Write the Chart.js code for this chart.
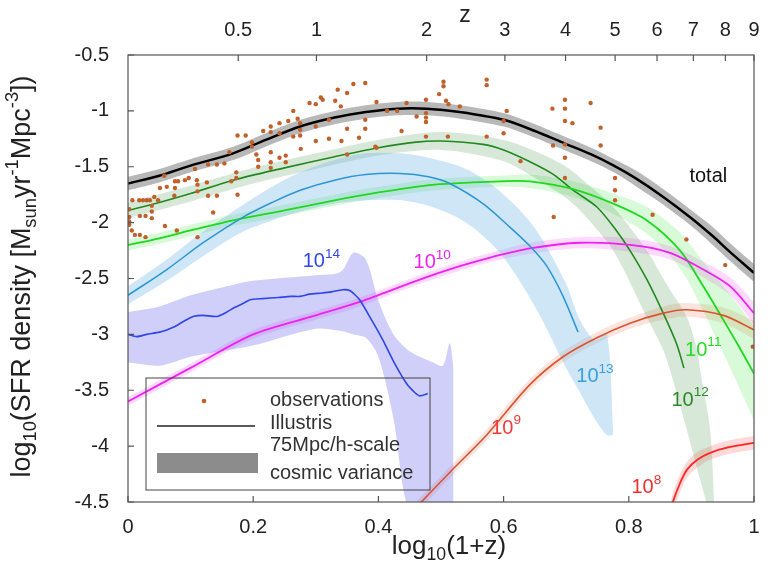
<html>
<head>
<title>SFR density</title>
<script src="https://cdn.jsdelivr.net/npm/chart.js@4.4.0/dist/chart.umd.min.js"></script>
<style>
  body { margin: 0; background: #fff; }
  #wrap { width: 770px; height: 579px; }
</style>
</head>
<body>
<div id="wrap"><canvas id="myChart" width="770" height="579"></canvas></div>
<script>
// x = log10(1+z), y = log10(SFR density)
var zTicks = [0.5, 1, 2, 3, 4, 5, 6, 7, 8, 9];
var zLabels = ['0.5', '1', '2', '3', '4', '5', '6', '7', '8', '9'];

// total
var totalX = [0, 0.05, 0.1, 0.168, 0.22, 0.275, 0.33, 0.38, 0.43, 0.477, 0.53, 0.6, 0.65, 0.697, 0.74, 0.776, 0.81, 0.855, 0.9, 0.934, 0.961, 1.0];
var totalY = [-1.65, -1.58, -1.49, -1.38, -1.26, -1.14, -1.06, -1.01, -0.98, -0.98, -1.01, -1.08, -1.18, -1.29, -1.39, -1.49, -1.60, -1.77, -1.96, -2.12, -2.26, -2.45];
var totalW = [0.06, 0.06, 0.06, 0.06, 0.06, 0.06, 0.06, 0.06, 0.06, 0.06, 0.06, 0.06, 0.06, 0.06, 0.06, 0.06, 0.07, 0.07, 0.07, 0.08, 0.08, 0.08];

// 10^12
var m12X = [0, 0.05, 0.1, 0.168, 0.25, 0.33, 0.4, 0.46, 0.5, 0.567, 0.6, 0.642, 0.68, 0.711, 0.749, 0.78, 0.802, 0.829, 0.855, 0.876, 0.888];
var m12Y = [-1.89, -1.82, -1.74, -1.62, -1.51, -1.41, -1.33, -1.28, -1.27, -1.30, -1.35, -1.455, -1.57, -1.71, -1.86, -2.07, -2.25, -2.51, -2.81, -3.08, -3.30];
var m12BandX = [0, 0.1, 0.2, 0.3, 0.4, 0.5, 0.6, 0.65, 0.7, 0.727, 0.775, 0.829, 0.855, 0.866, 0.893, 0.909, 0.914, 0.93, 0.937];
var m12BandUp = [-1.82, -1.67, -1.51, -1.38, -1.26, -1.19, -1.26, -1.36, -1.50, -1.62, -1.86, -2.25, -2.50, -2.60, -2.85, -3.14, -3.32, -3.86, -4.60];
var m12BandLo = [-1.96, -1.81, -1.65, -1.52, -1.40, -1.35, -1.45, -1.60, -1.78, -1.92, -2.25, -2.85, -3.14, -3.32, -3.86, -4.20, -4.30, -4.60, -4.60];

// 10^11
var m11X = [0, 0.05, 0.1, 0.168, 0.25, 0.33, 0.4, 0.49, 0.55, 0.594, 0.642, 0.711, 0.775, 0.829, 0.882, 0.919, 0.951, 0.975, 1.0];
var m11Y = [-2.20, -2.14, -2.07, -1.98, -1.89, -1.80, -1.73, -1.66, -1.64, -1.63, -1.63, -1.70, -1.83, -1.98, -2.25, -2.57, -2.87, -3.10, -3.35];
var m11W = [0.05, 0.05, 0.05, 0.05, 0.05, 0.05, 0.05, 0.05, 0.05, 0.05, 0.06, 0.07, 0.09, 0.12, 0.16, 0.22, 0.30, 0.36, 0.42];

// 10^13
var m13X = [0, 0.062, 0.12, 0.184, 0.23, 0.275, 0.33, 0.38, 0.435, 0.48, 0.514, 0.567, 0.61, 0.642, 0.669, 0.695, 0.719];
var m13Y = [-2.65, -2.42, -2.18, -1.95, -1.82, -1.71, -1.62, -1.57, -1.56, -1.59, -1.65, -1.83, -2.04, -2.21, -2.39, -2.66, -2.98];
var m13BandX = [0, 0.062, 0.12, 0.184, 0.23, 0.275, 0.33, 0.38, 0.435, 0.48, 0.54, 0.594, 0.65, 0.7, 0.72, 0.745, 0.765, 0.775];
var m13BandUp = [-2.57, -2.33, -2.08, -1.84, -1.68, -1.55, -1.44, -1.38, -1.38, -1.42, -1.52, -1.72, -2.05, -2.55, -2.85, -3.05, -3.00, -3.85];
var m13BandLo = [-2.73, -2.52, -2.30, -2.08, -1.98, -1.90, -1.83, -1.80, -1.80, -1.85, -2.00, -2.27, -2.75, -3.30, -3.50, -3.75, -3.90, -3.90];

// 10^14
var m14X = [0, 0.014, 0.03, 0.05, 0.062, 0.075, 0.09, 0.104, 0.12, 0.142, 0.158, 0.17, 0.185, 0.195, 0.215, 0.24, 0.26, 0.275, 0.29, 0.31, 0.325, 0.343, 0.355, 0.37, 0.39, 0.407, 0.425, 0.445, 0.458, 0.466, 0.479];
var m14Y = [-3.0, -3.02, -3.0, -2.98, -2.96, -2.93, -2.88, -2.84, -2.83, -2.84, -2.80, -2.76, -2.72, -2.69, -2.68, -2.67, -2.66, -2.66, -2.64, -2.63, -2.62, -2.60, -2.61, -2.69, -2.88, -3.05, -3.25, -3.44, -3.52, -3.55, -3.53];
var m14BandX = [0, 0.05, 0.1, 0.15, 0.2, 0.3, 0.34, 0.36, 0.38, 0.4, 0.424, 0.45, 0.487, 0.503, 0.514, 0.52];
var m14BandUp = [-2.80, -2.75, -2.65, -2.58, -2.52, -2.47, -2.44, -2.27, -2.33, -2.70, -3.00, -3.15, -3.25, -3.28, -3.08, -3.30];
var m14BandLo = [-3.25, -3.28, -3.20, -3.15, -3.10, -2.95, -2.97, -3.00, -3.03, -3.20, -3.75, -4.60, -4.60, -4.60, -4.60, -4.60];

// 10^10
var m10X = [0, 0.1, 0.2, 0.3, 0.37, 0.466, 0.53, 0.58, 0.642, 0.722, 0.802, 0.866, 0.919, 0.962, 1.0];
var m10Y = [-3.60, -3.30, -3.00, -2.83, -2.71, -2.51, -2.39, -2.31, -2.23, -2.18, -2.20, -2.27, -2.42, -2.57, -2.81];
var m10W = [0.04, 0.04, 0.04, 0.04, 0.04, 0.04, 0.04, 0.04, 0.05, 0.05, 0.06, 0.06, 0.07, 0.08, 0.10];

// 10^9
var m9X = [0.46, 0.52, 0.573, 0.642, 0.695, 0.749, 0.802, 0.855, 0.892, 0.951, 1.0];
var m9Y = [-4.55, -4.20, -3.90, -3.45, -3.20, -3.03, -2.90, -2.81, -2.78, -2.83, -2.96];
var m9W = [0.05, 0.05, 0.05, 0.05, 0.05, 0.05, 0.05, 0.06, 0.06, 0.07, 0.08];

// 10^8
var m8X = [0.866, 0.871, 0.882, 0.893, 0.91, 0.93, 0.96, 1.0];
var m8Y = [-4.60, -4.49, -4.33, -4.21, -4.12, -4.06, -4.01, -3.97];
var m8W = [0.08, 0.08, 0.08, 0.07, 0.07, 0.06, 0.06, 0.06];

// observations
var obsX = [0.605, 0.60, 0.60, 0.627, 0.678, 0.698, 0.698, 0.698, 0.710, 0.739, 0.755, 0.755, 0.679, 0.698, 0.698, 0.698, 0.68, 0.778, 0.778, 0.778,
  0.838, 0.892, 0.954, 0.998,
  0.397, 0.414, 0.43, 0.445, 0.437, 0.461, 0.476, 0.476, 0.476, 0.476, 0.476, 0.497, 0.504, 0.504, 0.508, 0.512, 0.511, 0.53, 0.573, 0.573, 0.573, 0.397,
  0.36, 0.379, 0.335, 0.35, 0.308, 0.29, 0.30, 0.311, 0.331, 0.34, 0.264, 0.271, 0.275, 0.275, 0.275, 0.256, 0.242, 0.228, 0.228, 0.216, 0.242, 0.264,
  0.198, 0.30, 0.30, 0.321, 0.321, 0.35, 0.341, 0.369, 0.379, 0.379, 0.395, 0.35, 0.205, 0.208, 0.228, 0.228, 0.228, 0.242, 0.252, 0.252, 0.208, 0.276,
  0.175, 0.188, 0.198, 0.162, 0.154, 0.128, 0.142, 0.107, 0.058, 0.075, 0.08, 0.091, 0.097, 0.11, 0.111, 0.111, 0.126, 0.142, 0.128, 0.173, 0.173,
  0.165, 0.175, 0.051, 0.062, 0.075, 0.074, 0.007, 0.018, 0.024, 0.03, 0.035, 0.042, 0.048, 0.038, 0.002, 0.002, 0.019, 0.028, 0.038, 0.038, 0.002,
  0.002, 0.006, 0.011, 0.019, 0.028, 0.059, 0.136, 0.078, 0.111];
var obsY = [-1.0, -1.09, -1.20, -1.45, -0.98, -0.90, -0.98, -1.09, -1.11, -0.93, -1.15, -1.31, -1.31, -1.30, -1.42, -1.60, -1.95, -1.60, -1.71, -1.80,
  -1.93, -2.15, -2.38, -3.11,
  -0.92, -1.0, -1.0, -0.93, -1.18, -1.05, -0.90, -1.02, -1.06, -1.10, -1.23, -0.85, -0.74, -0.78, -0.91, -0.94, -1.23, -0.96, -0.72, -0.77, -1.23, -1.33,
  -0.76, -0.75, -0.81, -0.84, -0.88, -0.93, -0.94, -0.90, -0.91, -0.96, -1.0, -1.07, -1.11, -1.17, -1.22, -1.09, -1.11, -1.14, -1.19, -1.18, -1.20, -1.23,
  -1.28, -1.14, -1.27, -1.08, -1.25, -1.16, -1.27, -1.24, -1.08, -1.16, -1.32, -1.39, -1.39, -1.44, -1.37, -1.46, -1.51, -1.42, -1.40, -1.46, -1.50, -1.34,
  -1.22, -1.22, -1.32, -1.37, -1.47, -1.48, -1.48, -1.52, -1.58, -1.63, -1.63, -1.62, -1.60, -1.62, -1.66, -1.72, -1.64, -1.76, -1.76, -1.55, -1.60,
  -1.63, -1.75, -1.69, -1.68, -1.69, -1.76, -1.80, -1.80, -1.80, -1.80, -1.80, -1.77, -1.80, -1.85, -1.88, -1.95, -1.94, -1.94, -1.96, -1.90, -1.99,
  -2.02, -2.07, -2.11, -2.11, -2.13, -2.03, -1.91, -2.07, -2.13];

var FONT = "'Liberation Sans', Arial, sans-serif";

function pts(xs, ys) {
  return xs.map(function (x, i) { return { x: x, y: ys[i] }; });
}
function shift(ys, ws, s) {
  return ys.map(function (y, i) { return y + s * ws[i]; });
}
function fmt(v) {
  return String(Math.round(v * 10) / 10);
}

var datasets = [];
function band(xs, up, lo, color) {
  datasets.push({ data: pts(xs, up), borderColor: 'transparent', borderWidth: 0, pointRadius: 0, fill: false, tension: 0.3, order: 3 });
  datasets.push({ data: pts(xs, lo), borderColor: 'transparent', borderWidth: 0, pointRadius: 0, fill: '-1', backgroundColor: color, tension: 0.3, order: 3 });
}
function curve(xs, ys, color, width, tension) {
  datasets.push({ data: pts(xs, ys), borderColor: color, borderWidth: width, pointRadius: 0, fill: false, tension: tension, order: 2 });
}

band(m14BandX, m14BandUp, m14BandLo, 'rgba(110,110,240,0.33)');
band(m13BandX, m13BandUp, m13BandLo, 'rgba(110,180,228,0.33)');
band(m12BandX, m12BandUp, m12BandLo, 'rgba(60,140,60,0.2)');
band(m11X, shift(m11Y, m11W, 1), shift(m11Y, m11W, -1), 'rgba(40,230,40,0.18)');
band(m10X, shift(m10Y, m10W, 1), shift(m10Y, m10W, -1), 'rgba(255,0,255,0.15)');
band(m9X, shift(m9Y, m9W, 1), shift(m9Y, m9W, -1), 'rgba(230,90,50,0.16)');
band(m8X, shift(m8Y, m8W, 1), shift(m8Y, m8W, -1), 'rgba(255,40,40,0.18)');
band(totalX, shift(totalY, totalW, 1), shift(totalY, totalW, -1), 'rgba(0,0,0,0.28)');

curve(m14X, m14Y, '#2f45e6', 1.6, 0.2);
curve(m13X, m13Y, '#2a97d4', 1.5, 0.3);
curve(m10X, m10Y, '#f020f0', 1.8, 0.3);
curve(m9X, m9Y, '#d9552e', 1.6, 0.3);
curve(m8X, m8Y, '#ff2626', 1.8, 0.3);
curve(m11X, m11Y, '#1fd81f', 1.8, 0.3);
curve(m12X, m12Y, '#208a20', 1.6, 0.3);
curve(totalX, totalY, '#000000', 2.5, 0.3);

datasets.push({ data: pts(obsX, obsY), showLine: false, pointRadius: 2.2, pointBackgroundColor: '#c0602a', pointBorderColor: '#c0602a', pointBorderWidth: 0, order: 1 });

function richWidth(ctx, parts, size) {
  var w = 0;
  parts.forEach(function (p) {
    ctx.font = (p.sub || p.sup ? size * 0.68 : size) + 'px ' + FONT;
    w += ctx.measureText(p.t).width;
  });
  return w;
}
function drawRich(ctx, parts, x, y, size, color, align) {
  var w = richWidth(ctx, parts, size);
  var cx = align === 'center' ? x - w / 2 : x;
  ctx.fillStyle = color;
  ctx.textBaseline = 'middle';
  ctx.textAlign = 'left';
  parts.forEach(function (p) {
    var s = p.sub || p.sup ? size * 0.68 : size;
    ctx.font = s + 'px ' + FONT;
    var dy = p.sub ? size * 0.3 : (p.sup ? -size * 0.38 : 0);
    ctx.fillText(p.t, cx, y + dy);
    cx += ctx.measureText(p.t).width;
  });
}

var curveLabels = [
  { x: 0.927, y: -1.59, parts: [{ t: 'total' }], color: '#111' },
  { x: 0.309, y: -2.35, parts: [{ t: '10' }, { t: '14', sup: true }], color: '#3347e6' },
  { x: 0.486, y: -2.36, parts: [{ t: '10' }, { t: '10', sup: true }], color: '#f020f0' },
  { x: 0.746, y: -3.38, parts: [{ t: '10' }, { t: '13', sup: true }], color: '#3aa0dc' },
  { x: 0.898, y: -3.59, parts: [{ t: '10' }, { t: '12', sup: true }], color: '#2a8a2a' },
  { x: 0.919, y: -3.14, parts: [{ t: '10' }, { t: '11', sup: true }], color: '#22dd22' },
  { x: 0.604, y: -3.84, parts: [{ t: '10' }, { t: '9', sup: true }], color: '#f03a3a' },
  { x: 0.828, y: -4.37, parts: [{ t: '10' }, { t: '8', sup: true }], color: '#f03030' }
];

var decor = {
  id: 'decor',
  afterDraw: function (chart) {
    var ctx = chart.ctx, a = chart.chartArea;
    var sx = chart.scales.x, sy = chart.scales.y, sx2 = chart.scales.x2;
    ctx.save();
    // frame
    ctx.strokeStyle = '#555';
    ctx.lineWidth = 1.2;
    ctx.strokeRect(a.left, a.top, a.right - a.left, a.bottom - a.top);
    // inward ticks
    ctx.beginPath();
    sx.ticks.forEach(function (t) {
      var p = sx.getPixelForValue(t.value);
      ctx.moveTo(p, a.bottom); ctx.lineTo(p, a.bottom - 6);
    });
    sx2.ticks.forEach(function (t) {
      var p = sx2.getPixelForValue(t.value);
      ctx.moveTo(p, a.top); ctx.lineTo(p, a.top + 6);
    });
    sy.ticks.forEach(function (t) {
      var p = sy.getPixelForValue(t.value);
      ctx.moveTo(a.left, p); ctx.lineTo(a.left + 6, p);
    });
    ctx.stroke();

    // curve labels
    curveLabels.forEach(function (l) {
      drawRich(ctx, l.parts, sx.getPixelForValue(l.x), sy.getPixelForValue(l.y), 20, l.color, 'center');
    });

    // legend
    var lx = a.left + 18, ly = a.top + 323;
    ctx.strokeStyle = '#444';
    ctx.lineWidth = 1;
    ctx.strokeRect(lx, ly, 284, 112);
    ctx.fillStyle = '#c0602a';
    ctx.beginPath(); ctx.arc(lx + 58, ly + 23, 2.3, 0, Math.PI * 2); ctx.fill();
    ctx.strokeStyle = '#222';
    ctx.lineWidth = 1.5;
    ctx.beginPath(); ctx.moveTo(lx + 11, ly + 48); ctx.lineTo(lx + 109, ly + 48); ctx.stroke();
    ctx.fillStyle = '#8c8c8c';
    ctx.fillRect(lx + 11, ly + 75, 101, 20);
    ctx.fillStyle = '#333';
    ctx.font = '20px ' + FONT;
    ctx.textAlign = 'left';
    ctx.textBaseline = 'middle';
    ctx.fillText('observations', lx + 124, ly + 22);
    ctx.fillText('Illustris', lx + 124, ly + 45);
    ctx.fillText('75Mpc/h-scale', lx + 124, ly + 67);
    ctx.fillText('cosmic variance', lx + 124, ly + 95);

    // axis titles
    var cx = (a.left + a.right) / 2;
    drawRich(ctx, [{ t: 'log' }, { t: '10', sub: true }, { t: '(1+z)' }], cx + 8, 547, 26, '#222', 'center');
    ctx.fillStyle = '#222';
    ctx.font = '23px ' + FONT;
    ctx.textAlign = 'center';
    ctx.fillText('z', cx + 24, 16);
    ctx.save();
    ctx.translate(23, (a.top + a.bottom) / 2 - 2);
    ctx.rotate(-Math.PI / 2);
    drawRich(ctx, [{ t: 'log' }, { t: '10', sub: true }, { t: '(SFR density [M' }, { t: 'sun', sub: true }, { t: 'yr' }, { t: '-1', sup: true },
      { t: 'Mpc' }, { t: '-3', sup: true }, { t: '])' }], 0, 0, 27, '#222', 'center');
    ctx.restore();
    ctx.restore();
  }
};

var tickFont = { family: FONT, size: 20 };
var ctx = document.getElementById('myChart').getContext('2d');
var chart = new Chart(ctx, {
  type: 'line',
  data: { datasets: datasets },
  options: {
    responsive: false,
    animation: false,
    layout: { padding: { left: 0, right: 16, top: 0, bottom: 0 } },
    plugins: { legend: { display: false }, tooltip: { enabled: false } },
    scales: {
      x: {
        type: 'linear', position: 'bottom', min: 0, max: 1,
        grid: { display: false }, border: { display: false },
        ticks: { stepSize: 0.2, font: tickFont, color: '#222', padding: 5, maxRotation: 0, callback: fmt },
        afterFit: function (s) { s.height = 77; }
      },
      x2: {
        type: 'linear', position: 'top', min: 0, max: 1,
        grid: { display: false }, border: { display: false },
        afterBuildTicks: function (s) {
          s.ticks = zTicks.map(function (z) { return { value: Math.log10(1 + z) }; });
        },
        ticks: {
          autoSkip: false, maxRotation: 0, font: tickFont, color: '#222', padding: 5,
          callback: function (v, i) { return zLabels[i]; }
        },
        afterFit: function (s) { s.height = 55; }
      },
      y: {
        type: 'linear', min: -4.5, max: -0.5,
        grid: { display: false }, border: { display: false },
        ticks: { stepSize: 0.5, font: tickFont, color: '#222', padding: 11, callback: fmt },
        afterFit: function (s) { s.width = 128; }
      }
    }
  },
  plugins: [decor]
});
</script>
</body>
</html>
